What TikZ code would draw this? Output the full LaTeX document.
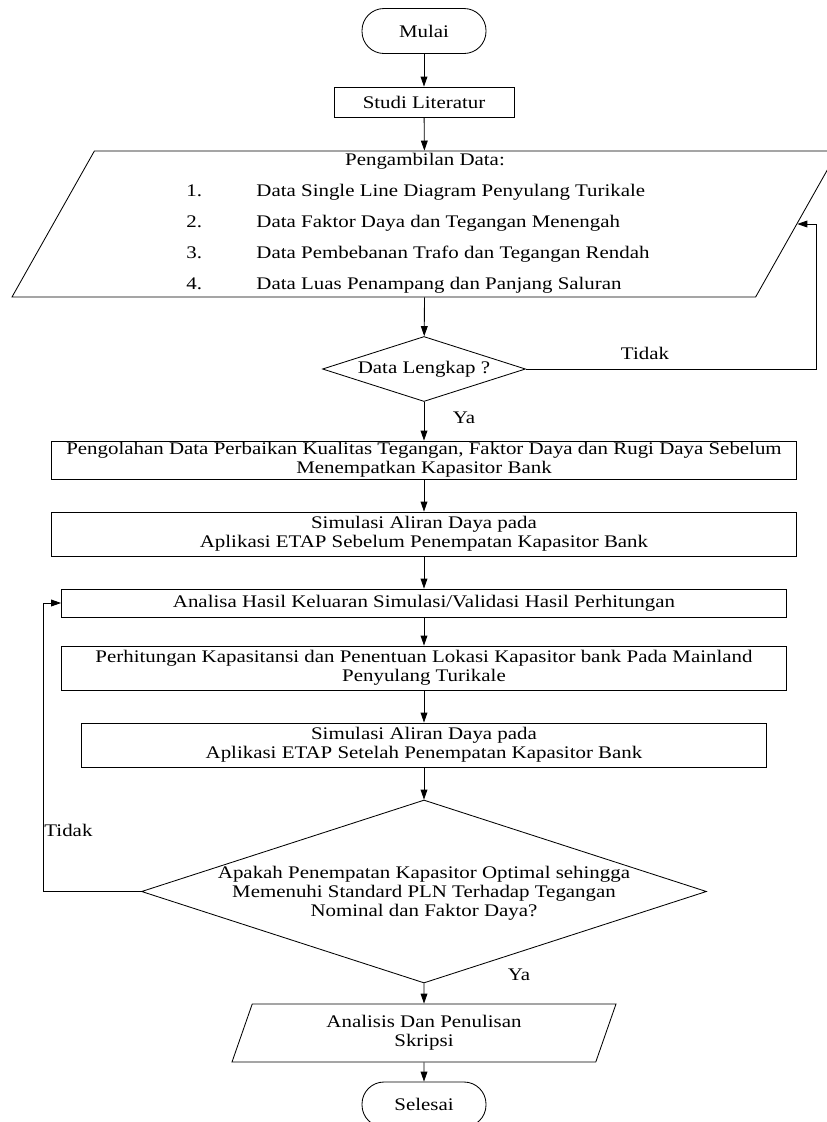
\documentclass[tikz,border=0pt]{standalone}
\usepackage{fontspec}
\setmainfont{Liberation Serif}[FakeStretch=1.18]
\usetikzlibrary{shapes.geometric,arrows.meta}

\begin{document}
\begin{tikzpicture}[
  font=\fontsize{12.6pt}{13.5pt}\selectfont,
  line width=0.6pt,
  proses/.style={draw, rectangle, align=center, inner sep=0pt},
  terminal/.style={draw, rectangle, rounded corners=0.55cm, minimum width=3.1cm, minimum height=1.125cm},
  keputusan/.style={draw, diamond, aspect=3.1, inner sep=0pt},
  masukan/.style={draw, trapezium, trapezium left angle=60, trapezium right angle=120,
    trapezium stretches body, inner sep=0pt, align=center},
  panah/.style={-{Triangle[length=2.5mm,width=1.7mm]}}]
  \useasboundingbox (0,0) rectangle (20.675,-28.05);
  \node[terminal] (mulai) at (10.6,-0.775) {Mulai};
  \node[proses, minimum width=4.5cm, minimum height=0.75cm] (studi) at (10.6,-2.55) {Studi Literatur};
  \node[masukan, minimum width=20.65cm, minimum height=3.65cm] (data) at (10.625,-5.6) {%
    \begin{tabular}{@{}p{1.75cm}@{}l@{\hspace{0.35cm}}}
      \multicolumn{2}{@{}c@{}}{Pengambilan Data:}\\[8.5pt]
      1. & Data Single Line Diagram Penyulang Turikale\\[8.5pt]
      2. & Data Faktor Daya dan Tegangan Menengah\\[8.5pt]
      3. & Data Pembebanan Trafo dan Tegangan Rendah\\[8.5pt]
      4. & Data Luas Penampang dan Panjang Saluran
    \end{tabular}};
  \node[keputusan, minimum width=5.075cm, minimum height=1.625cm] (lengkap) at (10.6,-9.225) {Data Lengkap ?};
  \node[proses, minimum width=18.625cm, minimum height=0.95cm] (olah) at (10.6,-11.5)
    {Pengolahan Data Perbaikan Kualitas Tegangan, Faktor Daya dan Rugi Daya Sebelum\\Menempatkan Kapasitor Bank};
  \node[proses, minimum width=18.625cm, minimum height=1.1cm] (simsebelum) at (10.6,-13.35)
    {Simulasi Aliran Daya pada\\Aplikasi ETAP Sebelum Penempatan Kapasitor Bank};
  \node[proses, minimum width=18.125cm, minimum height=0.7cm] (analisa) at (10.6,-15.075)
    {Analisa Hasil Keluaran Simulasi/Validasi Hasil Perhitungan};
  \node[proses, minimum width=18.125cm, minimum height=1.1cm] (hitung) at (10.6,-16.7)
    {Perhitungan Kapasitansi dan Penentuan Lokasi Kapasitor bank Pada Mainland\\Penyulang Turikale};
  \node[proses, minimum width=17.125cm, minimum height=1.1cm] (simsetelah) at (10.6,-18.625)
    {Simulasi Aliran Daya pada\\Aplikasi ETAP Setelah Penempatan Kapasitor Bank};
  \node[keputusan, minimum width=14.125cm, minimum height=4.575cm] (optimal) at (10.6,-22.2875) {};
  \node[align=center] (optimalteks) at (10.6,-22.33)
    {Apakah Penempatan Kapasitor Optimal sehingga\\Memenuhi Standard PLN Terhadap Tegangan\\Nominal dan Faktor Daya?};
  \node[masukan, minimum width=9.6cm, minimum height=1.45cm] (tulis) at (10.6,-25.825) {Analisis Dan Penulisan\\Skripsi};
  \node[terminal] (selesai) at (10.6,-27.6125) {Selesai};
  % label cabang
  \node (ya1) at (11.6,-10.45) {Ya};
  \node (tidak1) at (16.125,-8.825) {Tidak};
  \node (ya2) at (12.975,-24.375) {Ya};
  \node[anchor=west, inner sep=0pt] (tidak2) at (1.1,-20.75) {Tidak};
  \coordinate (kanan) at (20.4,0);
  \coordinate (kiri) at (1.075,0);
  % alur utama
  \draw[panah] (mulai) -- (studi);
  \draw[panah] (studi) -- (data);
  \draw[panah] (data) -- (lengkap);
  \draw[panah] (lengkap) -- (olah);
  \draw[panah] (olah) -- (simsebelum);
  \draw[panah] (simsebelum) -- (analisa);
  \draw[panah] (analisa) -- (hitung);
  \draw[panah] (hitung) -- (simsetelah);
  \draw[panah] (simsetelah) -- (optimal);
  \draw[panah] (optimal) -- (tulis);
  \draw[panah] (tulis) -- (selesai);
  % umpan balik
  \draw[panah] (lengkap.east) -- (lengkap.east -| kanan) |- (data.east);
  \draw[panah] (optimal.west) -- (optimal.west -| kiri) |- (analisa.west);
\end{tikzpicture}
\end{document}
